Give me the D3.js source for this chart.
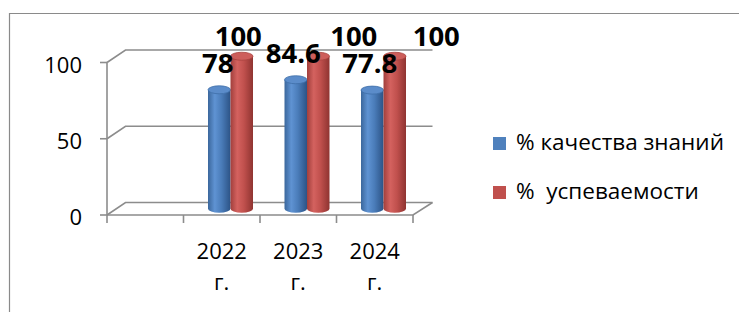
<!DOCTYPE html>
<html>
<head>
<meta charset="utf-8">
<script src="https://cdn.jsdelivr.net/npm/d3@7"></script>
<style>
  body { margin: 0; background: #fff; }
  text { font-family: "Open Sans", "Noto Sans", sans-serif; }
</style>
</head>
<body>
<div id="chart"></div>
<script>
// data
var categories = ["", "2022 г.", "2023 г.", "2024 г."];
var quality = [null, 78, 84.6, 77.8];
var success = [null, 100, 100, 100];
var seriesNames = ["% качества знаний", "%  успеваемости"];
var yTicks = [0, 50, 100];

var width = 739, height = 312;
var depth = { dx: 18.5, dy: -12.5 };   // 3d wall offset

var svg = d3.select("#chart").append("svg")
    .attr("width", width).attr("height", height);

// outer frame (cut off at right and bottom like the original)
svg.append("path")
    .attr("d", "M9.5,312 L9.5,13.5 L739,13.5")
    .attr("fill", "none").attr("stroke", "#8a8a8a").attr("stroke-width", 1.2);

var x = d3.scaleBand().domain(categories).range([107, 413]).padding(0);
var y = d3.scaleLinear().domain([0, 100]).range([215, 62.5]);

var grid = svg.append("g").attr("stroke", "#8c8c8c").attr("stroke-width", 1.6).attr("fill", "none");
var x0 = x.range()[0], x1 = x.range()[1];

// side wall diagonals + back wall lines
yTicks.forEach(function(t) {
  grid.append("path")
    .attr("d", "M" + x0 + "," + y(t) + " L" + (x0 + depth.dx) + "," + (y(t) + depth.dy) +
               " L" + (x1 + depth.dx + 1) + "," + (y(t) + depth.dy));
});
// floor front edge + right edge
grid.append("path")
  .attr("d", "M" + x0 + "," + y(0) + " L" + x1 + "," + y(0) + " L" + (x1 + depth.dx + 1) + "," + (y(0) + depth.dy));
// front value axis
grid.append("line").attr("x1", x0).attr("x2", x0).attr("y1", y(100)).attr("y2", y(0));
// value ticks
yTicks.forEach(function(t) {
  grid.append("line").attr("x1", x0 - 7).attr("x2", x0).attr("y1", y(t)).attr("y2", y(t));
});
// category ticks
categories.concat(["end"]).forEach(function(c, i) {
  var xx = i < categories.length ? x(c) : x1;
  grid.append("line").attr("x1", xx).attr("x2", xx).attr("y1", y(0)).attr("y2", y(0) + 8);
});

// value axis labels
svg.append("g").selectAll("text").data(yTicks).enter().append("text")
  .attr("x", 82).attr("y", function(d) { return y(d) + 10; })
  .attr("text-anchor", "end")
  .style("font-size", "22px").attr("fill", "#000")
  .text(function(d) { return d; });

// category labels (two lines)
var catLab = svg.append("g").selectAll("text").data(categories.filter(function(c) { return c; }))
  .enter().append("text")
  .attr("text-anchor", "middle")
  .style("font-size", "22px").attr("fill", "#000");
catLab.each(function(c) {
  var parts = c.split(" ");
  var cx = x(c) + x.bandwidth() / 2;
  d3.select(this).append("tspan").attr("x", cx).attr("y", 259).text(parts[0]);
  d3.select(this).append("tspan").attr("x", cx).attr("y", 290).text(parts[1]);
});

// gradients for cylinders
var defs = svg.append("defs");
function cylGrad(id, dark, mid, light, edge) {
  var g = defs.append("linearGradient").attr("id", id).attr("x1", 0).attr("x2", 1).attr("y1", 0).attr("y2", 0);
  g.append("stop").attr("offset", "0%").attr("stop-color", dark);
  g.append("stop").attr("offset", "30%").attr("stop-color", light);
  g.append("stop").attr("offset", "60%").attr("stop-color", mid);
  g.append("stop").attr("offset", "100%").attr("stop-color", edge);
}
cylGrad("gBlue", "#3b679c", "#4a7cb9", "#5f93d3", "#2c5386");
cylGrad("gRed", "#a13f3c", "#c0504d", "#d4625f", "#8f3431");
var colors = [
  { body: "url(#gBlue)", top: "#5b8cca", topStroke: "#3f6ea8", legend: "#4f81bd" },
  { body: "url(#gRed)", top: "#cd5e5b", topStroke: "#a8423f", legend: "#c0504d" }
];

var cylW = 22.5, ry = 4;
var mid = { dx: depth.dx / 2, dy: depth.dy / 2 };
var series = [quality, success];

var bars = svg.append("g");
categories.forEach(function(c, i) {
  series.forEach(function(s, k) {
    var v = s[i];
    if (v == null) return;
    var cx = x(c) + x.bandwidth() / 2 + mid.dx + (k === 0 ? -cylW / 2 : cylW / 2) - 0.5;
    var yb = y(0) + mid.dy, yt = y(v) + mid.dy;
    var rx = cylW / 2;
    bars.append("path")
      .attr("d", "M" + (cx - rx) + "," + yt + " L" + (cx - rx) + "," + yb +
                 " A" + rx + "," + ry + " 0 0 0 " + (cx + rx) + "," + yb +
                 " L" + (cx + rx) + "," + yt + " Z")
      .attr("fill", colors[k].body);
    bars.append("ellipse")
      .attr("cx", cx).attr("cy", yt).attr("rx", rx).attr("ry", ry)
      .attr("fill", colors[k].top).attr("stroke", colors[k].topStroke).attr("stroke-width", 0.8);
  });
});

// data labels (red labels were nudged by hand in the original)
var labelNudge = [[0, 0], [-2, 0], [-3, 39], [-3, 45]];
var labels = svg.append("g").style("font-size", "27.5px").style("font-weight", "bold")
  .style("font-family", "'Liberation Sans', Arial, sans-serif");
categories.forEach(function(c, i) {
  series.forEach(function(s, k) {
    var v = s[i];
    if (v == null) return;
    var cx = x(c) + x.bandwidth() / 2 + mid.dx + (k === 0 ? -cylW / 2 : cylW / 2) + labelNudge[i][k];
    var yt = y(v) + mid.dy;
    labels.append("text")
      .attr("x", cx - (k === 0 ? 0 : 4))
      .attr("y", yt - (k === 0 ? 17 : 10.5))
      .attr("text-anchor", "middle").attr("fill", "#000")
      .text(v);
  });
});

// legend
var legend = svg.append("g");
seriesNames.forEach(function(n, k) {
  var ly = 137 + k * 49;
  legend.append("rect").attr("x", 493).attr("y", ly).attr("width", 13).attr("height", 13)
    .attr("fill", colors[k].legend);
  legend.append("text").attr("x", 516).attr("y", ly + 13)
    .style("font-size", "22.5px").style("white-space", "pre").attr("fill", "#000")
    .text(n);
});
</script>
</body>
</html>
